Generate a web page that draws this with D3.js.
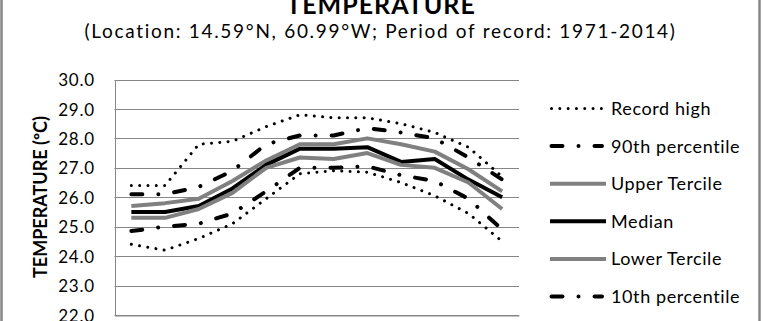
<!DOCTYPE html>
<html>
<head>
<meta charset="utf-8">
<script src="https://cdn.jsdelivr.net/npm/d3@7"></script>
<style>
  body { margin: 0; background: #fff; }
  text { font-family: Lato, "Open Sans", sans-serif; fill: #000; }
</style>
</head>
<body>
<div id="chart"></div>
<script>
var months = ["Jan", "Feb", "Mar", "Apr", "May", "Jun", "Jul", "Aug", "Sep", "Oct", "Nov", "Dec"];
var yTicks = [22, 23, 24, 25, 26, 27, 28, 29, 30];

var recordHigh   = [26.4, 26.4, 27.8, 27.9, 28.4, 28.8, 28.7, 28.7, 28.5, 28.2, 27.7, 26.7];
var p90          = [26.1, 26.1, 26.35, 26.9, 27.8, 28.1, 28.1, 28.35, 28.2, 28.0, 27.35, 26.6];
var upperTercile = [25.7, 25.8, 25.95, 26.55, 27.25, 27.8, 27.8, 28.0, 27.8, 27.55, 26.95, 26.2];
var median       = [25.5, 25.5, 25.7, 26.3, 27.1, 27.65, 27.65, 27.7, 27.2, 27.3, 26.6, 26.0];
var lowerTercile = [25.3, 25.3, 25.6, 26.15, 27.0, 27.35, 27.3, 27.5, 27.1, 27.0, 26.5, 25.6];
var p10          = [24.85, 25.0, 25.1, 25.45, 26.2, 27.0, 27.0, 27.05, 26.75, 26.55, 25.95, 24.9];
var recordLow    = [24.4, 24.2, 24.6, 25.1, 25.95, 26.8, 26.9, 26.85, 26.5, 26.05, 25.45, 24.5];

var seriesNames = ["Record high", "90th percentile", "Upper Tercile", "Median", "Lower Tercile", "10th percentile", "Record low"];

var W = 763, H = 321;
var margin = { top: 79.5, left: 114.5, right: 244, bottom: 5.5 };

var svg = d3.select("#chart")
  .append("svg")
  .attr("width", W)
  .attr("height", H);

// chart border
svg.append("rect")
  .attr("x", 1.5).attr("y", -10)
  .attr("width", 758).attr("height", H + 20)
  .attr("fill", "none")
  .attr("stroke", "#868686")
  .attr("stroke-width", 2.5);

// SCALES
var x = d3.scalePoint().domain(months).range([margin.left, W - margin.right]).padding(0.5);
var y = d3.scaleLinear().domain([22, 30]).range([H - margin.bottom - 0.5, margin.top]);

// gridlines
svg.append("g")
  .selectAll("line")
  .data(yTicks)
  .enter().append("line")
  .attr("x1", margin.left).attr("x2", W - margin.right)
  .attr("y1", function(d) { return Math.round(y(d)) + 0.5; })
  .attr("y2", function(d) { return Math.round(y(d)) + 0.5; })
  .attr("stroke", "#868686")
  .attr("stroke-width", 1);

// Y AXIS
var yAxis = d3.axisLeft(y).tickValues(yTicks).tickFormat(d3.format(".1f")).tickSize(0).tickPadding(20);
var gy = svg.append("g")
  .attr("transform", "translate(" + (margin.left + 0.5) + ",0)")
  .call(yAxis);
gy.select(".domain").attr("stroke", "#868686");
gy.selectAll("text").style("font-size", "17px").style("letter-spacing", "0.8px").attr("dy", "0.36em");

// X AXIS (month labels sit below the cropped area)
var xAxis = d3.axisBottom(x).tickSize(0).tickPadding(30);
var gx = svg.append("g")
  .attr("transform", "translate(0," + (Math.round(y(22)) + 0.5) + ")")
  .call(xAxis);
gx.select(".domain").attr("stroke", "#868686");
gx.selectAll("text").style("font-size", "17px");

svg.append("text")
  .attr("transform", "translate(47,197) rotate(-90)")
  .attr("text-anchor", "middle")
  .style("font-size", "18px")
  .style("font-weight", "bold")
  .text("TEMPERATURE (ºC)");

// TITLE
svg.append("text")
  .attr("x", 381).attr("y", 13.5)
  .attr("text-anchor", "middle")
  .style("font-size", "25px")
  .style("font-weight", "bold")
  .style("letter-spacing", "1px")
  .text("TEMPERATURE");

svg.append("text")
  .attr("x", 380.5).attr("y", 37.5)
  .attr("text-anchor", "middle")
  .style("font-size", "19px")
  .style("letter-spacing", "1.7px")
  .text("(Location: 14.59°N, 60.99°W; Period of record: 1971-2014)");

var dotted = { color: "#000", width: 3, dash: "0.01,8.3" };
var dashDot = { color: "#000", width: 4, dash: "11,16,0.01,16" };
var grey = { color: "#808080", width: 4, dash: null };
var solid = { color: "#000", width: 4, dash: null };

var series = [
  { name: seriesNames[0], values: recordHigh, style: dotted },
  { name: seriesNames[1], values: p90, style: dashDot },
  { name: seriesNames[2], values: upperTercile, style: grey },
  { name: seriesNames[3], values: median, style: solid },
  { name: seriesNames[4], values: lowerTercile, style: grey },
  { name: seriesNames[5], values: p10, style: dashDot },
  { name: seriesNames[6], values: recordLow, style: dotted }
];

var line = d3.line()
  .x(function(d, i) { return x(months[i]); })
  .y(function(d) { return y(d); });

svg.selectAll(".series")
  .data(series)
  .enter().append("path")
  .attr("class", "series")
  .attr("d", function(d) { return line(d.values); })
  .attr("fill", "none")
  .attr("stroke", function(d) { return d.style.color; })
  .attr("stroke-width", function(d) { return d.style.width; })
  .attr("stroke-dasharray", function(d) { return d.style.dash; })
  .attr("stroke-linecap", function(d) { return d.style.dash ? "round" : "butt"; })
  .attr("stroke-linejoin", "round");

// LEGEND (the last entry falls below the crop, as in the original)
var legend = svg.selectAll(".legend")
  .data(series)
  .enter().append("g")
  .attr("class", "legend")
  .attr("transform", function(d, i) { return "translate(551," + (108.5 + i * 37.6) + ")"; });

legend.append("line")
  .attr("x1", function(d) { return d.style.dash ? 0.5 : -1; })
  .attr("x2", function(d) { return d.style.dash ? 51 : 55; })
  .attr("stroke", function(d) { return d.style.color; })
  .attr("stroke-width", function(d) { return d.style.width; })
  .attr("stroke-dasharray", function(d) { return d.style.dash; })
  .attr("stroke-linecap", function(d) { return d.style.dash ? "round" : "butt"; });

legend.append("text")
  .attr("x", 60)
  .attr("dy", "0.36em")
  .style("font-size", "18px")
  .style("letter-spacing", "0.6px")
  .text(function(d) { return d.name; });
</script>
</body>
</html>
